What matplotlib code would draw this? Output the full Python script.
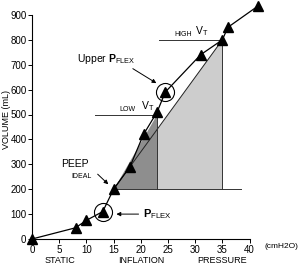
import numpy as np
import matplotlib.pyplot as plt

plt.rcParams['font.family'] = ['Liberation Sans', 'DejaVu Sans']
plt.rcParams['mathtext.fontset'] = 'custom'
plt.rcParams['mathtext.rm'] = 'Liberation Sans'
plt.rcParams['mathtext.bf'] = 'Liberation Sans:bold'

# data
pressure = [0, 8, 10, 13, 15, 18, 20.5, 23, 24.5, 31, 35, 36, 41.5]
volume = [0, 45, 75, 110, 200, 290, 420, 510, 590, 740, 800, 850, 935]
pflex = (13, 110)
upper_pflex = (24.5, 590)
peep = (15, 200)
low_vt = (23, 500)
high_vt = (35, 800)
x_ticks = [0, 5, 10, 15, 20, 25, 30, 35, 40]
y_ticks = [0, 100, 200, 300, 400, 500, 600, 700, 800, 900]

fig = plt.figure(figsize=(3.0, 2.65), dpi=100)
ax = fig.add_axes([32 / 300, 26 / 265, 268 / 300, 239 / 265])
ax.set_xlim(0, 268 / 5.44)
ax.set_ylim(0, 239 / 0.249)

# shaded triangles
ax.fill([peep[0], high_vt[0], high_vt[0]], [peep[1], peep[1], high_vt[1]],
        color='#cdcdcd', lw=0, zorder=1)
ax.fill([peep[0], low_vt[0], low_vt[0]], [peep[1], peep[1], low_vt[1]],
        color='#8e8e8e', lw=0, zorder=1.5)
ax.plot([peep[0], high_vt[0]], [peep[1], high_vt[1]], color='#222222', lw=0.7, zorder=2)
ax.plot([peep[0], 38.5], [peep[1], peep[1]], color='#333333', lw=0.7, zorder=2)
ax.plot([high_vt[0], high_vt[0]], [peep[1], high_vt[1]], color='#333333', lw=0.7, zorder=2)
ax.plot([low_vt[0], low_vt[0]], [peep[1], low_vt[1]], color='#333333', lw=0.7, zorder=2)

# VT lines
ax.plot([11.5, low_vt[0]], [low_vt[1], low_vt[1]], color='#333333', lw=0.7, zorder=2)
ax.plot([23.3, high_vt[0]], [high_vt[1], high_vt[1]], color='#333333', lw=0.7, zorder=2)
ax.text(16.1, 506, 'LOW', fontsize=5, va='bottom')
ax.text(20.0, 506, r'$\mathrm{V}_{\mathrm{T}}$', fontsize=7.5, va='bottom')
ax.text(26.2, 806, 'HIGH', fontsize=5, va='bottom')
ax.text(30.0, 806, r'$\mathrm{V}_{\mathrm{T}}$', fontsize=7.5, va='bottom')

# curve
ax.plot(pressure, volume, color='black', lw=0.9, marker='^', ms=7.5,
        mfc='black', mec='black', zorder=4, clip_on=False)

# circles
for p in [pflex, upper_pflex]:
    ax.plot(p[0], p[1], marker='o', ms=13, mfc='none', mec='black', mew=0.8, zorder=5)

# annotations
ax.annotate('', xy=(23.3, 620), xytext=(18.1, 690),
            arrowprops=dict(arrowstyle='-|>', color='black', lw=0.7, mutation_scale=6))
ax.text(8.2, 722, r'Upper $\mathbf{P}_{\mathrm{FLEX}}$', fontsize=7.5, va='center')

ax.annotate('', xy=(14.4, 212), xytext=(11.7, 268),
            arrowprops=dict(arrowstyle='-|>', color='black', lw=0.7, mutation_scale=6))
ax.text(5.4, 302, 'PEEP', fontsize=7.5, va='center')
ax.text(7.3, 250, 'IDEAL', fontsize=5, va='center')

ax.annotate('', xy=(15.0, 100), xytext=(20.1, 100),
            arrowprops=dict(arrowstyle='-|>', color='black', lw=0.7, mutation_scale=6))
ax.text(20.4, 100, r'$\mathbf{P}_{\mathrm{FLEX}}$', fontsize=8, va='center')

# axes styling
for s in ['top', 'right']:
    ax.spines[s].set_visible(False)
ax.spines['left'].set_bounds(0, 900)
ax.spines['bottom'].set_bounds(0, 40)
ax.spines['left'].set_linewidth(0.8)
ax.spines['bottom'].set_linewidth(0.8)
ax.set_xticks(x_ticks)
ax.set_yticks(y_ticks)
ax.tick_params(labelsize=7, length=3, width=0.7, pad=1)
ax.set_ylabel('VOLUME (mL)', fontsize=6.5)
ax.yaxis.set_label_coords(-0.08, 0.5)

ax.text(298 / 300, 18 / 265, '(cmH2O)', fontsize=6, ha='right', va='center',
        transform=fig.transFigure)
for lab, xx in [('STATIC', 5.1), ('INFLATION', 20.0), ('PRESSURE', 34.9)]:
    ax.text(xx, -68, lab, fontsize=6.5, ha='center', va='top', clip_on=False)

fig.savefig('out.png', dpi=100)
